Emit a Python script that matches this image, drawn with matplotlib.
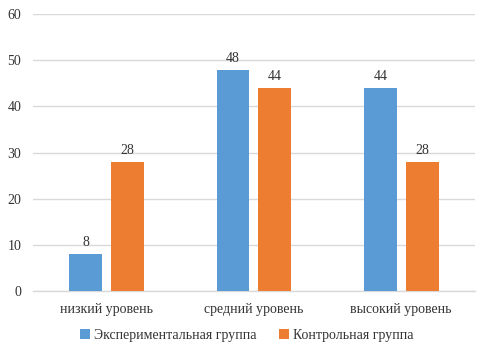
import numpy as np
import matplotlib
matplotlib.use("Agg")
import matplotlib.pyplot as plt

# chart data
categories = ["низкий уровень", "средний уровень", "высокий уровень"]
series_names = ["Экспериментальная группа", "Контрольная группа"]
experimental = [8, 48, 44]
control = [28, 44, 28]

blue = "#5B9BD5"
orange = "#ED7D31"
text_color = "#333333"
grid_color = "#D9D9D9"

plt.rcParams["font.family"] = ["Liberation Serif", "DejaVu Serif"]

fig = plt.figure(figsize=(4.89, 3.54), dpi=100)
ax = fig.add_axes([0.0675, 0.178, 0.9035, 0.782])

x = np.arange(len(categories))
width = 0.224
offset = 0.142

bars1 = ax.bar(x - offset, experimental, width, color=blue, label=series_names[0], zorder=3)
bars2 = ax.bar(x + offset, control, width, color=orange, label=series_names[1], zorder=3)

# value labels above bars
for bars in (bars1, bars2):
    for b in bars:
        ax.annotate(f"{b.get_height():g}", (b.get_x() + b.get_width() / 2, b.get_height()),
                    xytext=(0, 3.5), textcoords="offset points", ha="center", va="bottom",
                    fontsize=10, color=text_color)

ax.set_xlim(-0.5, len(categories) - 0.5)
ax.set_ylim(0, 60)
ax.set_yticks(range(0, 61, 10))
ax.set_xticks(x)
ax.set_xticklabels(categories)
ax.tick_params(axis="both", length=0, labelsize=10, colors=text_color)
ax.tick_params(axis="x", pad=9)
ax.tick_params(axis="y", pad=8.5)

ax.grid(True, axis="y", color=grid_color, linewidth=1, zorder=0)
for side in ("top", "right", "left"):
    ax.spines[side].set_visible(False)
ax.spines["bottom"].set_color(grid_color)
ax.spines["bottom"].set_linewidth(1)

fig.legend(handles=[bars1, bars2], loc="lower center", bbox_to_anchor=(0.505, 0.0),
           ncol=2, frameon=False, fontsize=10, handlelength=0.7, handleheight=0.7,
           handletextpad=0.3, columnspacing=1.6, labelcolor=text_color)

fig.savefig("out.png", dpi=100)
